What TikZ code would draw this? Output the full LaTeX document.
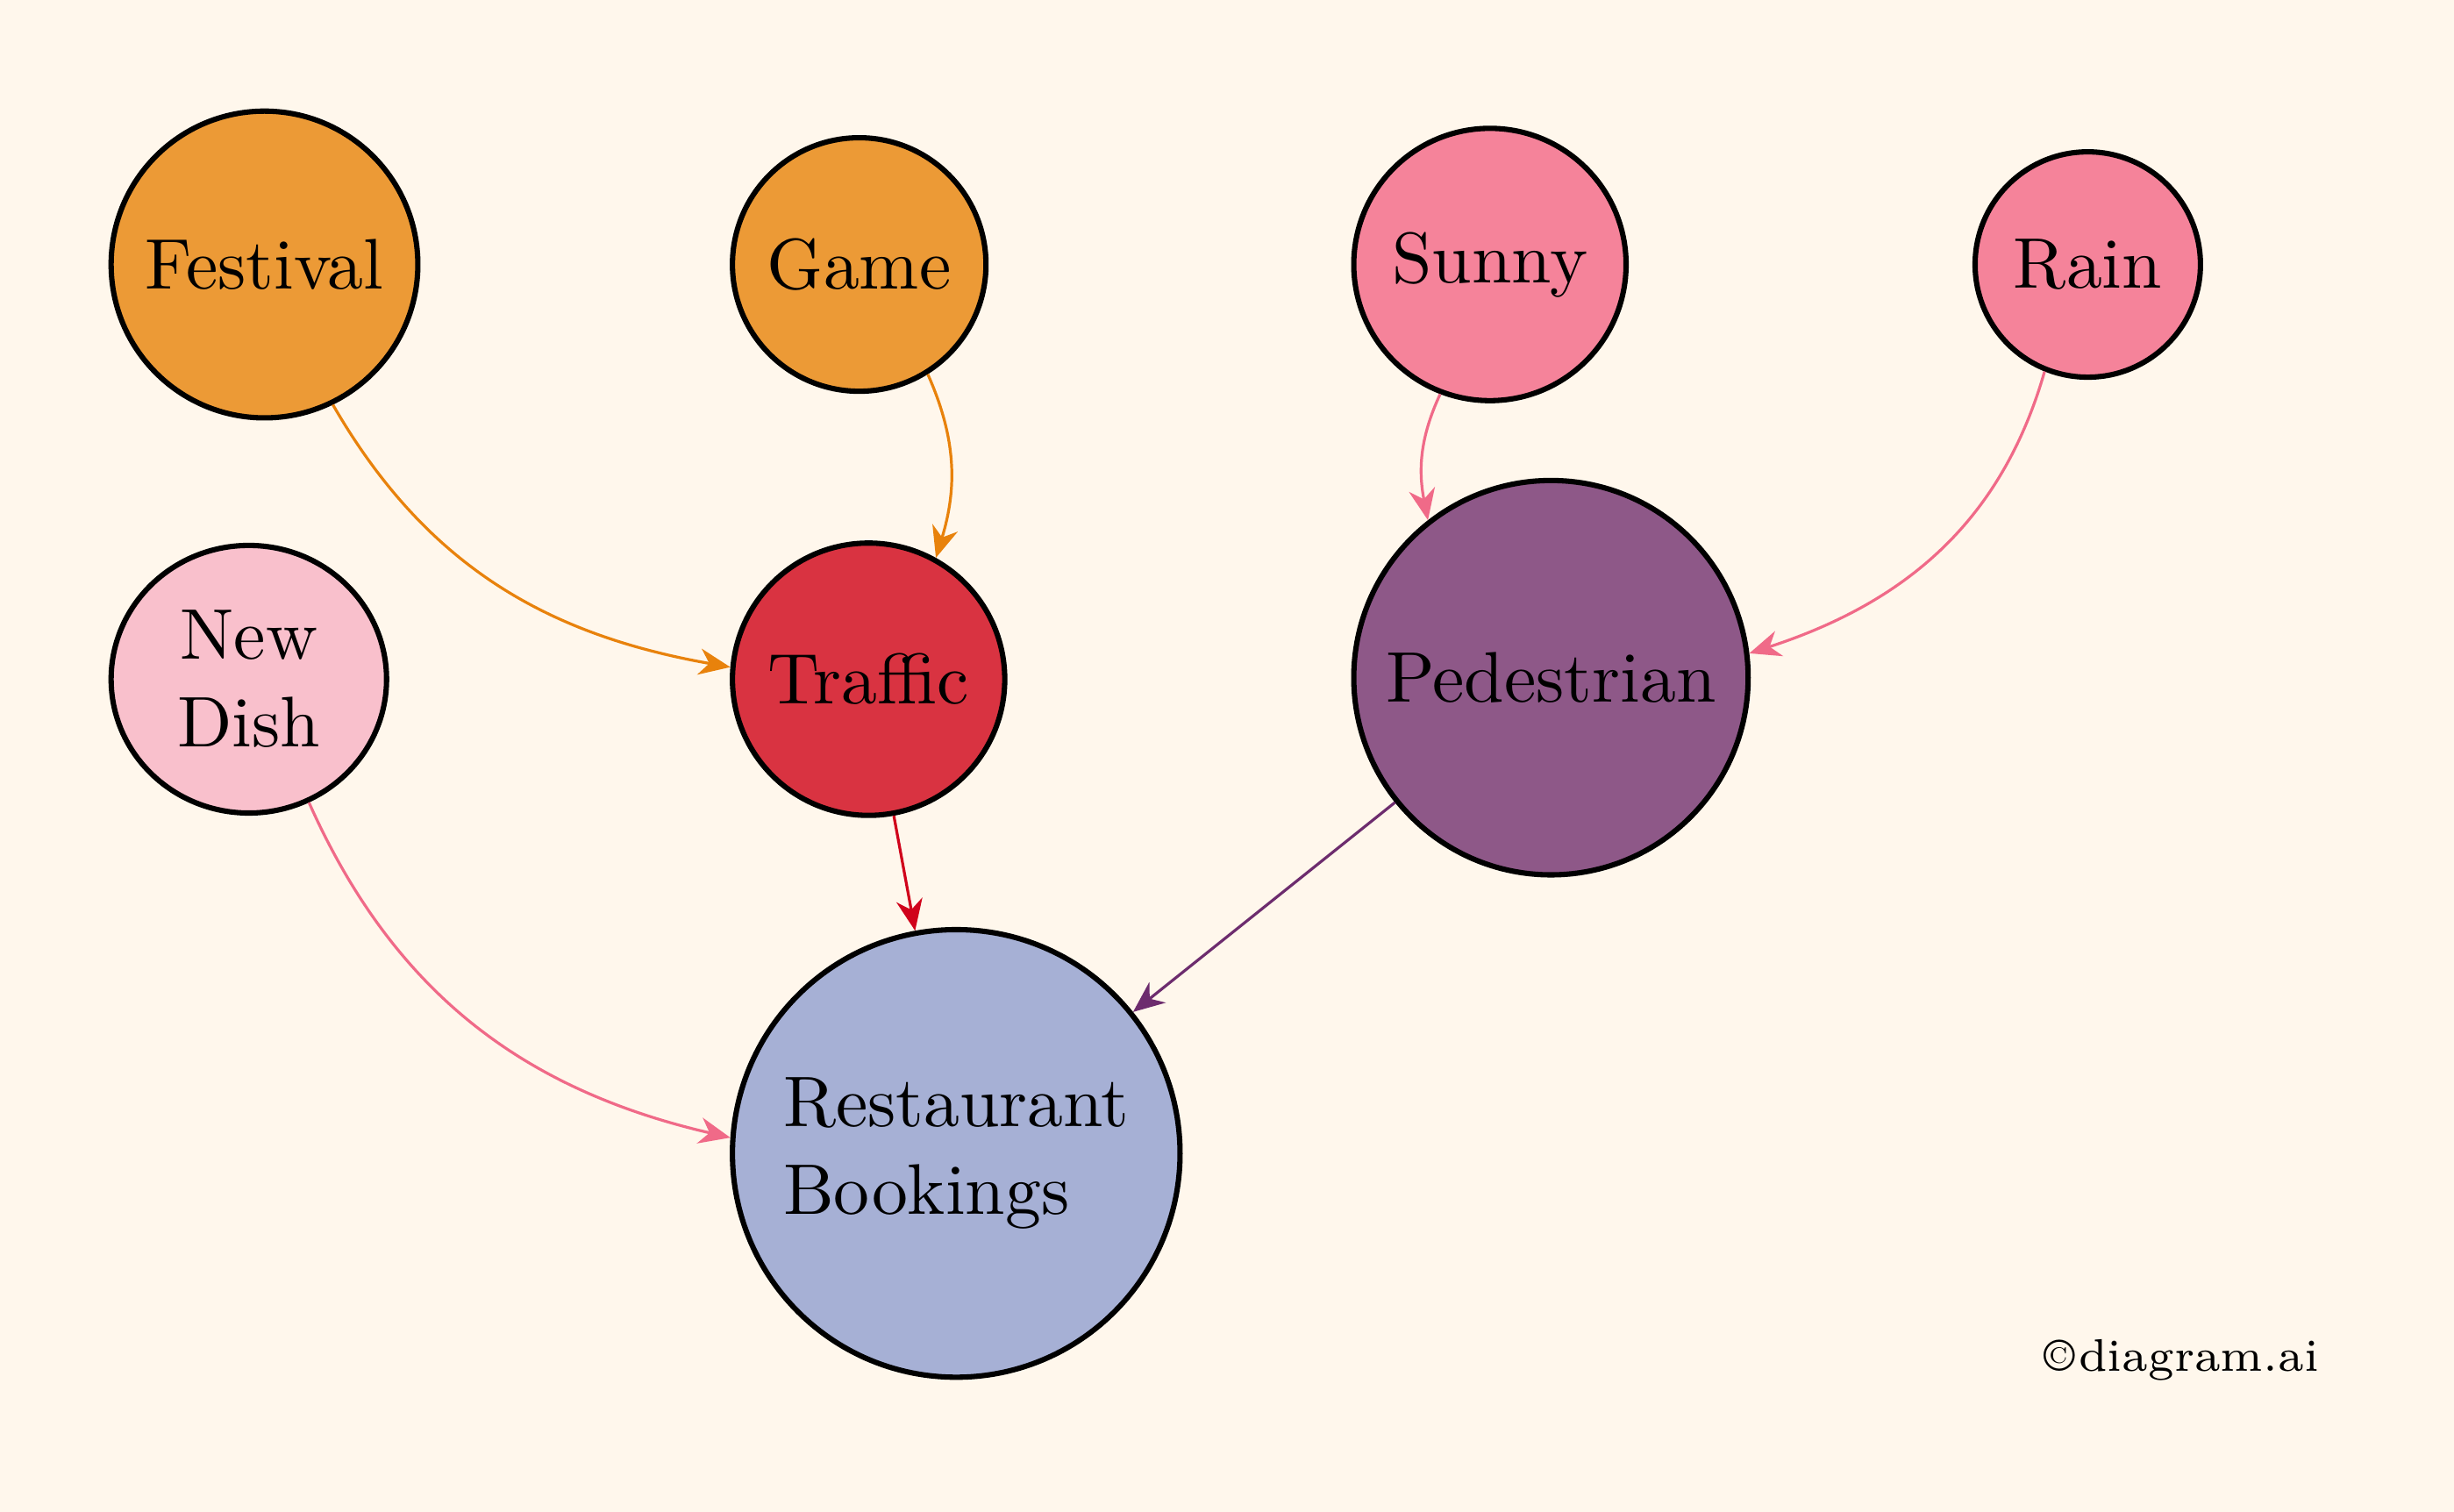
\documentclass[tikz,border=0pt]{standalone}
\usepackage{fontspec}
\newfontfamily\lmten{lmroman10-regular.otf}
\usetikzlibrary{arrows.meta,shapes.geometric}
\definecolor{bgcol}{HTML}{FFF7EC}
\definecolor{orangefill}{HTML}{EC9A36}
\definecolor{pinkfill}{HTML}{F5839A}
\definecolor{lightpink}{HTML}{F9C0CC}
\definecolor{redfill}{HTML}{D93341}
\definecolor{purplefill}{HTML}{8E5888}
\definecolor{bluefill}{HTML}{A6B0D5}
\definecolor{orangearrow}{HTML}{E8820C}
\definecolor{pinkarrow}{HTML}{F06A88}
\definecolor{redarrow}{HTML}{D0021B}
\definecolor{purplearrow}{HTML}{6D2C6E}
\tikzset{
  bubble/.style={circle, draw=black, line width=0.85pt, inner sep=0pt, font=\lmten\fontsize{11.45}{14}\selectfont},
  link/.style={line width=0.45pt, -{Stealth[length=5pt,width=4.2pt,inset=1.6pt]}},
}
\begin{document}
\begin{tikzpicture}[x=0.25pt,y=0.25pt]
  \fill[bgcol] (0,0) rectangle (1568,-966);
  \useasboundingbox (0,0) rectangle (1568,-966);

  \node[bubble, fill=orangefill, minimum size=196*0.25pt] (fest) at (169,-169) {Festival};
  \node[bubble, fill=orangefill, minimum size=162*0.25pt] (game) at (549,-169) {Game};
  \node[bubble, fill=pinkfill, minimum size=174*0.25pt] (sunny) at (952,-169) {Sunny};
  \node[bubble, fill=pinkfill, minimum size=144*0.25pt] (rain) at (1334,-169) {Rain};
  \node[bubble, ellipse, fill=lightpink, minimum width=176*0.25pt, minimum height=171*0.25pt, align=center] (dish) at (159,-434) {New\\Dish};
  \node[bubble, fill=redfill, minimum size=174*0.25pt] (traffic) at (555,-434) {Traffic};
  \node[bubble, fill=purplefill, minimum size=252*0.25pt] (ped) at (991,-433) {Pedestrian};
  \node[bubble, fill=bluefill, minimum size=286*0.25pt, align=left] (rest) at (611,-737) {Restaurant\\Bookings};

  \node[font=\fontsize{7.3}{9}\selectfont, inner sep=0pt] (copy) at (1394,-869) {\copyright\kern0.5pt diagram.ai};

  \draw[link, orangearrow] (fest.-64.6) to[out=-60, in=170] (traffic.175.5);
  \draw[link, orangearrow] (game.-58) to[out=-66, in=73] (traffic.61);
  \draw[link, pinkarrow] (sunny.-111) to[out=-115, in=101] (ped.128);
  \draw[link, pinkarrow] (rain.-112) to[out=-106, in=18] (ped.7.5);
  \draw[link, pinkarrow] (dish.-64) to[out=-66, in=167] (rest.176);
  \draw[link, redarrow] (traffic) -- (rest);
  \draw[link, purplearrow] (ped) -- (rest);
\end{tikzpicture}
\end{document}
